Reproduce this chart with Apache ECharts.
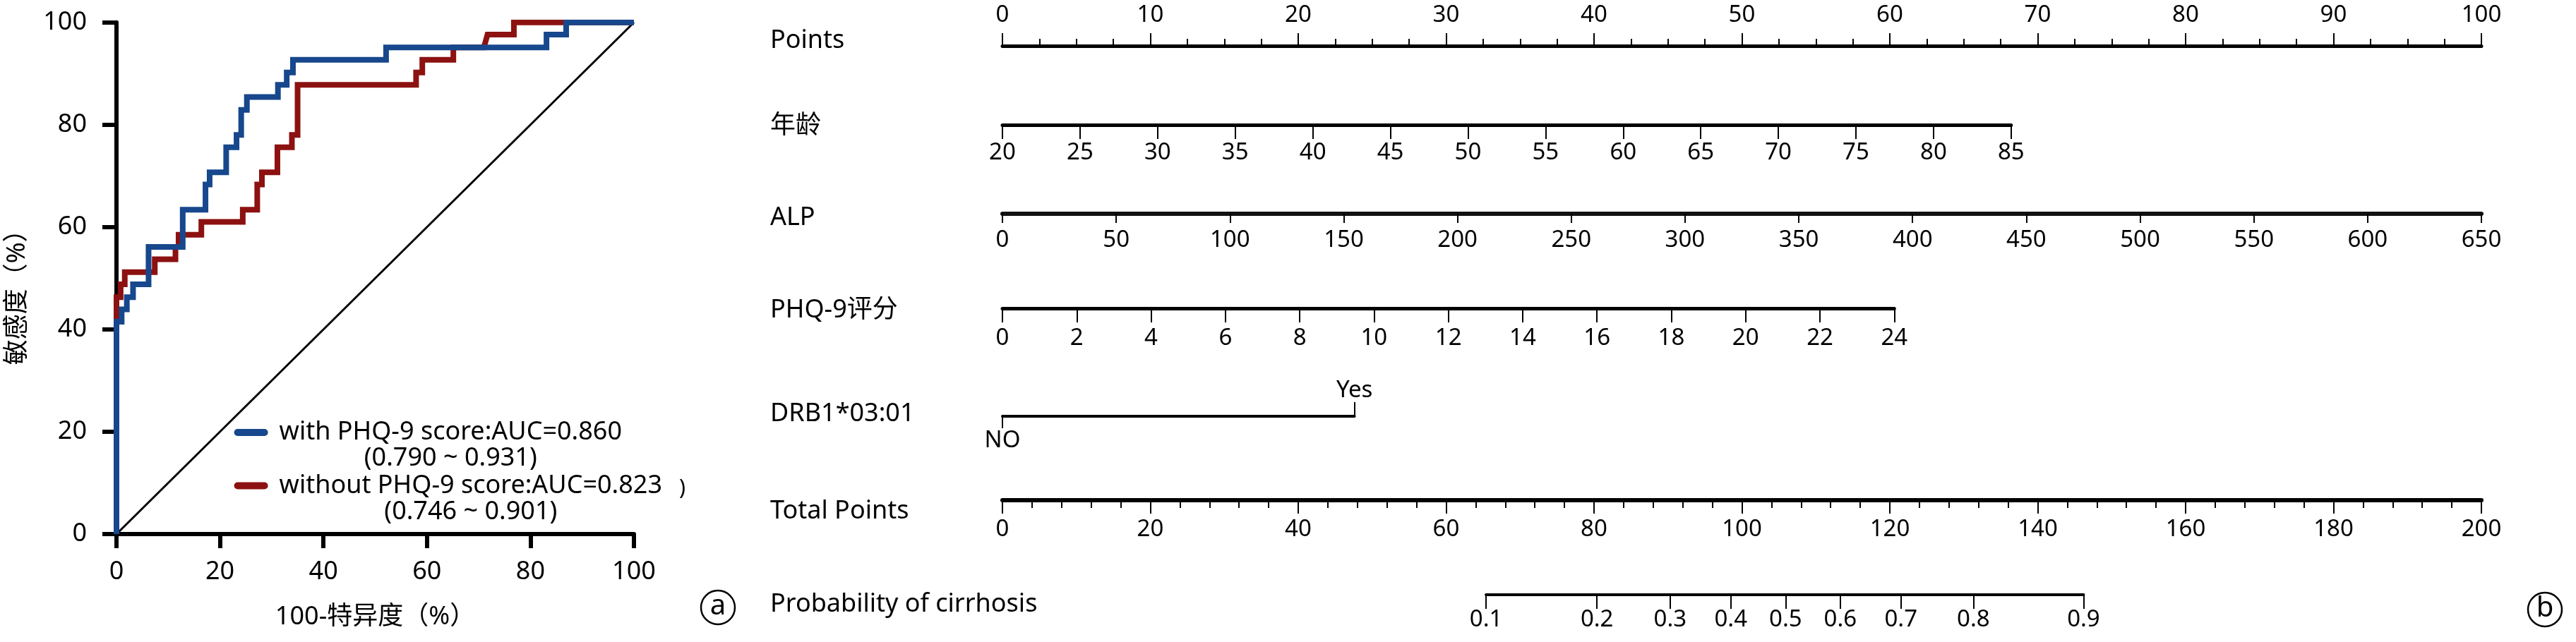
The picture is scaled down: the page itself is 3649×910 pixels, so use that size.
<!DOCTYPE html>
<html><head><meta charset="utf-8">
<script src="https://cdn.jsdelivr.net/npm/echarts@6/dist/echarts.min.js"></script>
<style>html,body{margin:0;padding:0;background:#fff}#c{width:3649px;height:910px}</style>
</head><body><div id="c"></div>
<script>
// ---------- ROC data ----------
const rocTicks = [0, 20, 40, 60, 80, 100];
const seriesNames = ['with PHQ-9 score:AUC=0.860', 'without PHQ-9 score:AUC=0.823'];
const ciLabels = ['(0.790 ~ 0.931)', '(0.746 ~ 0.901)'];
const withPHQ = [[0,0],[0,41.5],[1,41.5],[1,43.9],[2,43.9],[2,46.3],[3.2,46.3],[3.2,48.8],[6.2,48.8],[6.2,56.1],[12.8,56.1],[12.8,63.4],[17.2,63.4],[17.2,68.3],[18,68.3],[18,70.7],[21.2,70.7],[21.2,75.6],[23.2,75.6],[23.2,78],[24.1,78],[24.1,82.9],[25.2,82.9],[25.2,85.4],[31.2,85.4],[31.2,87.8],[32.9,87.8],[32.9,90.2],[34.1,90.2],[34.1,92.7],[52.1,92.7],[52.1,95.1],[83.1,95.1],[83.1,97.6],[86.9,97.6],[86.9,100],[100,100]];
const withoutPHQ = [[0,0],[0,46.3],[0.8,46.3],[0.8,48.8],[1.6,48.8],[1.6,51.2],[7.4,51.2],[7.4,53.7],[11.4,53.7],[11.4,56.1],[12,56.1],[12,58.5],[16.4,58.5],[16.4,61],[24.4,61],[24.4,63.4],[27.2,63.4],[27.2,68.3],[28.1,68.3],[28.1,70.7],[31.1,70.7],[31.1,75.6],[33.9,75.6],[33.9,78],[35,78],[35,87.8],[57.9,87.8],[57.9,90.2],[59.1,90.2],[59.1,92.7],[65.1,92.7],[65.1,95.1],[71,95.1],[71.7,97.6],[76.8,97.6],[76.8,100],[100,100]];
const refLine = [[0,0],[100,100]];

// ---------- Nomogram data ----------
const rowNames = ['Points', '年龄', 'ALP', 'PHQ-9评分', 'DRB1*03:01', 'Total Points', 'Probability of cirrhosis'];
const pointsRange = [0, 100];
const ageRange = [20, 85];      // 85 years -> 68.2 points
const agePointsMax = 68.2;
const alpRange = [0, 650];      // 650 -> 100 points
const alpPointsMax = 100;
const phqRange = [0, 24];       // 24 -> 60.3 points
const phqPointsMax = 60.3;
const drbLevels = ['NO', 'Yes']; // Yes -> 23.8 points
const drbPointsMax = 23.8;
const totalRange = [0, 200];
const probLabels = ['0.1', '0.2', '0.3', '0.4', '0.5', '0.6', '0.7', '0.8', '0.9'];
const probTotalPoints = [65.4, 80.4, 90.3, 98.5, 105.9, 113.3, 121.5, 131.3, 146.2];

// ---------- layout ----------
const FONT = '"Noto Sans", "Noto Sans CJK SC", sans-serif';
const nomoLeft = 1420, nomoWidth = 2095; // width of 100 points / 200 total points
const pxPerPoint = nomoWidth / 100, pxPerTotal = nomoWidth / 200;
const rowLineY = [65, 177, 303, 437, 590, 709, 843];
const rowLabelY = [58, 179, 309, 440, 587, 725, 857];

const chart = echarts.init(document.getElementById('c'));

const grids = [{left: 165, right: 3649 - 898, top: 31.7, bottom: 910 - 757, outerBoundsMode: 'none', containLabel: false}];
const xAxes = [], yAxes = [];
const rocAxisCommon = {
  min: 0, max: 100, interval: 20,
  axisLine: {show: true, lineStyle: {color: '#000', width: 6}},
  axisTick: {show: true, length: 20, lineStyle: {color: '#000', width: 6}},
  splitLine: {show: false},
  axisLabel: {color: '#000', fontSize: 36, fontFamily: FONT}
};
xAxes.push(Object.assign({}, rocAxisCommon, {type: 'value', gridIndex: 0, name: '100-特异度（%）', nameLocation: 'middle', nameGap: 100,
  nameTextStyle: {color: '#000', fontSize: 36, fontFamily: FONT},
  axisLabel: Object.assign({}, rocAxisCommon.axisLabel, {margin: 36})}));
yAxes.push(Object.assign({}, rocAxisCommon, {type: 'value', gridIndex: 0, name: '敏感度（%）', nameLocation: 'middle', nameGap: 122, nameRotate: 90,
  nameTextStyle: {color: '#000', fontSize: 36, fontFamily: FONT, padding: [0, 0, 0, -36]},
  axisLabel: Object.assign({}, rocAxisCommon.axisLabel, {margin: 42})}));

function addNomoGrid(lineY, widthPx, left) {
  grids.push({left: left === undefined ? nomoLeft : left, top: lineY, width: widthPx, height: 0, outerBoundsMode: 'none', containLabel: false});
  const gi = grids.length - 1;
  yAxes.push({type: 'value', gridIndex: gi, show: false, min: 0, max: 1});
  return gi;
}
const tickLabel = (margin) => ({color: '#000', fontSize: 33, fontFamily: FONT, margin: margin, showMinLabel: true, showMaxLabel: true, hideOverlap: false});
function nomoAxis(gi, range, interval, opts) {
  return Object.assign({
    type: 'value', gridIndex: gi, min: range[0], max: range[1], interval: interval, position: 'bottom',
    axisLine: {show: true, onZero: false, lineStyle: {color: '#000', width: 5}},
    axisTick: {show: true, length: 20, lineStyle: {color: '#000', width: 2}},
    splitLine: {show: false},
    axisLabel: tickLabel(23)
  }, opts);
}

// Points
let g = addNomoGrid(rowLineY[0], (pointsRange[1] - pointsRange[0]) * pxPerPoint);
xAxes.push(nomoAxis(g, pointsRange, 10, {position: 'top',
  axisTick: {show: true, length: 18, lineStyle: {color: '#000', width: 2}},
  minorTick: {show: true, splitNumber: 4, length: 10, lineStyle: {color: '#000', width: 2}},
  axisLabel: tickLabel(27)}));
// Age
g = addNomoGrid(rowLineY[1], agePointsMax * pxPerPoint);
xAxes.push(nomoAxis(g, ageRange, 5, {axisLabel: tickLabel(23)}));
// ALP
g = addNomoGrid(rowLineY[2], alpPointsMax * pxPerPoint);
xAxes.push(nomoAxis(g, alpRange, 50, {axisLine: {show: true, onZero: false, lineStyle: {color: '#111', width: 6}},
  axisTick: {show: true, length: 13, lineStyle: {color: '#000', width: 2}}, axisLabel: tickLabel(21)}));
// PHQ-9
g = addNomoGrid(rowLineY[3], phqPointsMax * pxPerPoint);
xAxes.push(nomoAxis(g, phqRange, 2, {axisLabel: tickLabel(26)}));
// DRB1*03:01
g = addNomoGrid(rowLineY[4], drbPointsMax * pxPerPoint);
xAxes.push(nomoAxis(g, [0, 1], 1, {
  axisLine: {show: true, onZero: false, lineStyle: {color: '#000', width: 4}},
  axisTick: {show: true, length: 17, customValues: [0], lineStyle: {color: '#000', width: 2}},
  axisLabel: Object.assign(tickLabel(18), {customValues: [0], formatter: () => drbLevels[0]})}));
xAxes.push(nomoAxis(g, [0, 1], 1, {position: 'top',
  axisLine: {show: false},
  axisTick: {show: true, length: 20, customValues: [1], lineStyle: {color: '#000', width: 2}},
  axisLabel: Object.assign(tickLabel(20), {customValues: [1], formatter: () => drbLevels[1]})}));
// Total points
g = addNomoGrid(rowLineY[5], (totalRange[1] - totalRange[0]) * pxPerTotal);
xAxes.push(nomoAxis(g, totalRange, 20, {
  axisLine: {show: true, onZero: false, lineStyle: {color: '#000', width: 6}},
  axisTick: {show: true, length: 19, lineStyle: {color: '#000', width: 2}},
  minorTick: {show: true, splitNumber: 5, length: 11, lineStyle: {color: '#000', width: 2}},
  axisLabel: tickLabel(25)}));
// Probability
const pMin = probTotalPoints[0], pMax = probTotalPoints[probTotalPoints.length - 1];
g = addNomoGrid(rowLineY[6], (pMax - pMin) * pxPerTotal, nomoLeft + pMin * pxPerTotal);
xAxes.push(nomoAxis(g, [pMin, pMax], null, {
  interval: undefined,
  axisLine: {show: true, onZero: false, lineStyle: {color: '#000', width: 4}},
  axisTick: {show: true, length: 20, customValues: probTotalPoints, lineStyle: {color: '#000', width: 2}},
  axisLabel: Object.assign(tickLabel(19), {customValues: probTotalPoints, formatter: (v) => {
    let bi = 0, bd = Infinity;
    probTotalPoints.forEach((p, i) => { const d = Math.abs(p - v); if (d < bd) { bd = d; bi = i; } });
    return probLabels[bi];
  }})}));

const pill = 'path://M5,0 H43 A5,5 0 0 1 43,10 H5 A5,5 0 0 1 5,0 Z';
const legendCommon = {
  orient: 'vertical', padding: 0, itemWidth: 48, itemHeight: 10, icon: pill, selectedMode: false,
  textStyle: {color: '#000', fontSize: 36, fontFamily: FONT, lineHeight: 37, padding: [37, 0, 0, 11],
    rich: {a: {fontSize: 36, fontFamily: FONT, lineHeight: 37, color: '#000'},
           b: {fontSize: 36, fontFamily: FONT, lineHeight: 37, color: '#000', align: 'center'}}}
};

const graphics = rowNames.map((n, i) => ({
  type: 'text', x: 1091, y: rowLabelY[i], style: {text: n, fontSize: 36, fontFamily: FONT, fill: '#000', verticalAlign: 'middle'}
}));
graphics.push({type: 'text', x: 962, y: 692, style: {text: ')', fontSize: 30, fontFamily: FONT, fill: '#000', verticalAlign: 'middle'}});
[['a', 1017, 861], ['b', 3605, 864]].forEach(([t, cx, cy]) => {
  graphics.push({type: 'circle', shape: {cx: cx, cy: cy, r: 24}, style: {fill: 'none', stroke: '#000', lineWidth: 2.5}});
  graphics.push({type: 'text', x: cx, y: cy - 1, style: {text: t, fontSize: 40, fontFamily: FONT, fill: '#000', align: 'center', verticalAlign: 'middle'}});
});

chart.setOption({
  backgroundColor: '#fff',
  animation: false,
  grid: grids,
  xAxis: xAxes,
  yAxis: yAxes,
  legend: [
    Object.assign({}, legendCommon, {data: [seriesNames[0]], left: 331.6, top: 557.5,
      formatter: (n) => `{a|${n}}\n{b|${ciLabels[0]}}`}),
    Object.assign({}, legendCommon, {data: [seriesNames[1]], left: 331.6, top: 633,
      formatter: (n) => `{a|${n}}\n{b|${ciLabels[1]}}`})
  ],
  series: [
    {name: 'ref', type: 'line', xAxisIndex: 0, yAxisIndex: 0, data: refLine, showSymbol: false, silent: true, z: 1,
      lineStyle: {color: '#000', width: 3}},
    {name: seriesNames[1], type: 'line', xAxisIndex: 0, yAxisIndex: 0, data: withoutPHQ, showSymbol: false, z: 2,
      color: '#8c1111', lineStyle: {color: '#8c1111', width: 8, join: 'miter', cap: 'butt'}},
    {name: seriesNames[0], type: 'line', xAxisIndex: 0, yAxisIndex: 0, data: withPHQ, showSymbol: false, z: 3,
      color: '#17478c', lineStyle: {color: '#17478c', width: 8, join: 'miter', cap: 'butt'}}
  ],
  graphic: graphics
});
</script></body></html>
